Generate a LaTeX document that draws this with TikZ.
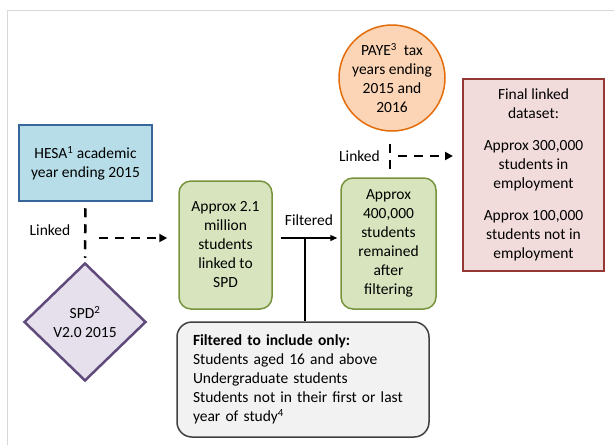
\documentclass[tikz,border=0pt]{standalone}
\usepackage{fontspec}
\setmainfont{Carlito}
\usetikzlibrary{shapes.geometric,arrows.meta}
\definecolor{hesafill}{HTML}{B7DEE8}
\definecolor{hesaline}{HTML}{35679A}
\definecolor{spdfill}{HTML}{E5E0EC}
\definecolor{spdline}{HTML}{604A7B}
\definecolor{greenfill}{HTML}{D7E4BD}
\definecolor{greenline}{HTML}{77933C}
\definecolor{payefill}{HTML}{FBD5B5}
\definecolor{payeline}{HTML}{E46C0A}
\definecolor{finalfill}{HTML}{F2DCDB}
\definecolor{finalline}{HTML}{953735}
\definecolor{critfill}{HTML}{F2F2F2}
\definecolor{critline}{HTML}{404040}
\definecolor{frameline}{HTML}{D9D9D9}
\begin{document}
\begin{tikzpicture}[x=1pt,y=-1pt,
    every node/.style={font=\fontsize{15.5}{19}\selectfont, align=center, inner sep=0pt},
    stage/.style={draw=greenline, fill=greenfill, line width=1.5pt, rounded corners=12pt},
    linkarrow/.style={line width=2.5pt, dash pattern=on 9pt off 7pt, -{Triangle[length=8pt,width=8pt]}},
    linkline/.style={line width=2.5pt, dash pattern=on 9pt off 7pt},
    filtarrow/.style={line width=1.3pt, -{Triangle[length=7pt,width=6pt]}}]
  \useasboundingbox (0,0) rectangle (614,445);
  \draw[frameline, line width=1pt] (7,445) -- (7,10) -- (614,10);
  \draw
    (85.5,163) node[draw=hesaline, fill=hesafill, line width=2.5pt, minimum width=133pt, minimum height=76pt] (hesa){HESA\textsuperscript{1} academic\\year ending 2015}
    (85,322) node[diamond, draw=spdline, fill=spdfill, line width=2.5pt, minimum width=122pt, minimum height=118pt] (spd){SPD\textsuperscript{2}\\V2.0 2015}
    (225.5,245) node[stage, minimum width=93pt, minimum height=128pt] (linked){Approx 2.1\\million\\students\\linked to\\SPD}
    (388.5,243.5) node[stage, minimum width=95pt, minimum height=131pt] (remain){Approx\\400,000\\students\\remained\\after\\filtering}
    (392,78) node[circle, draw=payeline, fill=payefill, line width=1.5pt, minimum size=106pt] (paye){PAYE\textsuperscript{3}\ \ tax\\years ending\\2015 and\\2016}
    (533.5,175) node[draw=finalline, fill=finalfill, line width=2pt, minimum width=141pt, minimum height=192pt] (final){Final linked\\dataset:\\[13pt]Approx 300,000\\students in\\employment\\[13pt]Approx 100,000\\students not in\\employment}
    (303,379.5) node[draw=critline, fill=critfill, line width=1.5pt, rounded corners=15pt, text width=220pt, inner xsep=16pt, minimum height=115pt, align=left] (crit){\textbf{Filtered to include only:}\\Students aged 16 and above\\Undergraduate students\\Students not in their first or last\\year of study\textsuperscript{4}}
    (50,230) node (lnkA){Linked}
    (309,220) node (filt){Filtered}
    (359.5,156) node (lnkB){Linked};
  \coordinate (linkA) at (85,238);
  \coordinate (linkB) at (390,156);
  \coordinate (filtmid) at (305,238);
  \begin{scope}
    \draw[linkline, shorten <=6pt, shorten >=4pt] (hesa.south) -- (spd.north);
    \draw[linkarrow, shorten <=14pt, shorten >=11pt] (linkA) -- (linkA -| linked.west);
    \draw[filtarrow, shorten <=8pt, shorten >=3pt] (linked.east |- linkA) -- (remain.west |- linkA);
    \draw[line width=1.3pt] (filtmid) -- (filtmid |- crit.north);
    \draw[linkline, shorten <=12pt, shorten >=6pt] (paye.south -| linkB) -- (linkB |- remain.north);
    \draw[linkarrow, shorten <=8pt, shorten >=9pt] (linkB) -- (linkB -| final.west);
  \end{scope}
\end{tikzpicture}
\end{document}
